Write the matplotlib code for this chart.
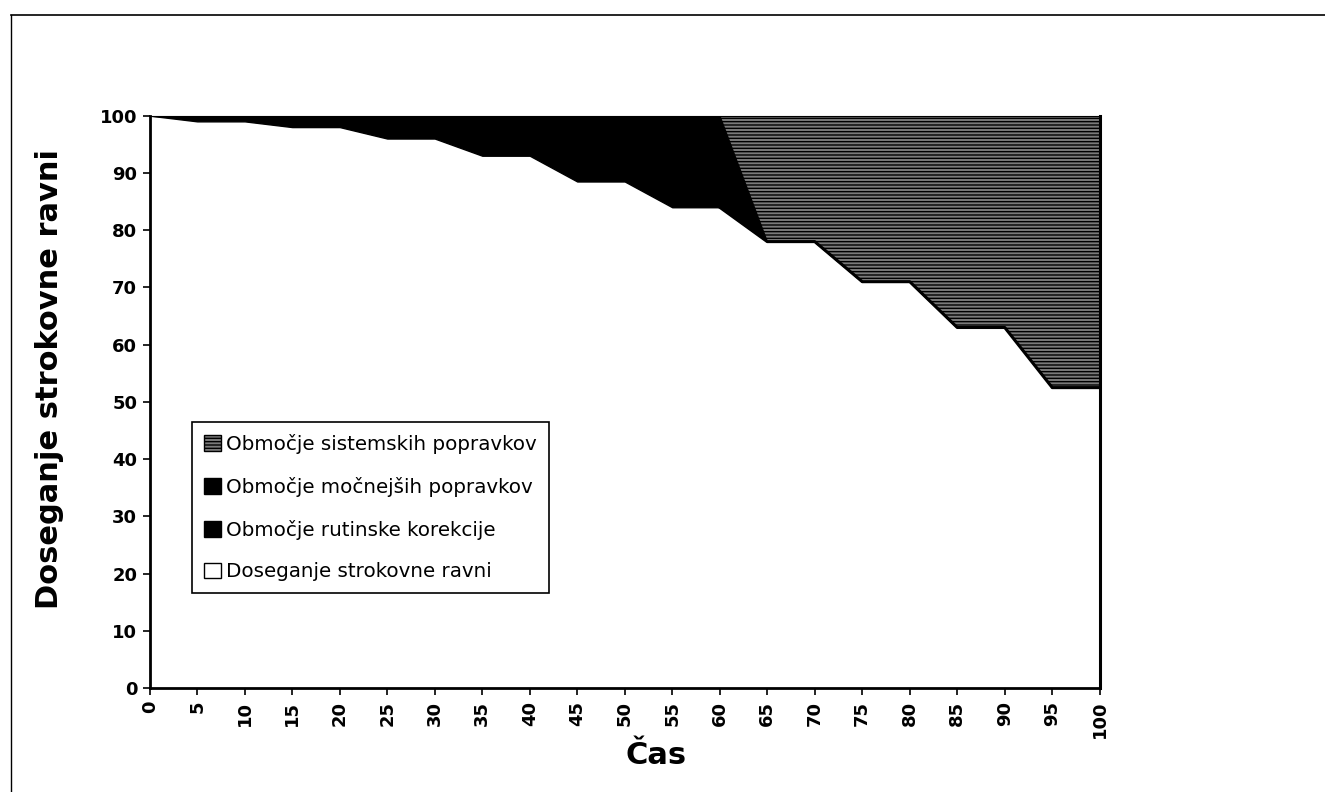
import numpy as np
import matplotlib.pyplot as plt
from matplotlib.lines import Line2D

plt.rcParams['font.family'] = ['DejaVu Sans']
plt.rcParams['hatch.linewidth'] = 1.0

# time axis
cas = [0, 5, 10, 15, 20, 25, 30, 35, 40, 45, 50,
       55, 60, 65, 70, 75, 80, 85, 90, 95, 100]

# series (stacked, bottom to top)
doseganje = [100, 99, 99, 98, 98, 96, 96, 93, 93, 88.5, 88.5,
             84, 84, 78, 78, 71, 71, 63, 63, 52.5, 52.5]
rutinske = [0, 0.5, 0.5, 1, 1, 2, 2, 3, 3, 5, 5,
            7, 7, 0, 0, 0, 0, 0, 0, 0, 0]
mocnejsi = [0, 0.5, 0.5, 1, 1, 2, 2, 4, 4, 6.5, 6.5,
            9, 9, 0, 0, 0, 0, 0, 0, 0, 0]
sistemski = [0, 0, 0, 0, 0, 0, 0, 0, 0, 0, 0,
             0, 0, 22, 22, 29, 29, 37, 37, 47.5, 47.5]

labels = ["Doseganje strokovne ravni", "Območje rutinske korekcije",
          "Območje močnejših popravkov", "Območje sistemskih popravkov"]

fig = plt.figure(figsize=(13.25, 7.92), dpi=100)
ax = fig.add_axes([0.113, 0.131, 0.717, 0.723])

polys = ax.stackplot(cas, doseganje, rutinske, mocnejsi, sistemski,
                     colors=['white', 'black', 'black', '#7a7a7a'],
                     labels=labels)
polys[0].set_edgecolor('none')
polys[1].set_edgecolor('black')
polys[2].set_edgecolor('black')
polys[3].set_edgecolor('black')
polys[3].set_hatch('-----')
polys[3].set_linewidth(1.0)

# thick edge along the lower side of the system-correction area
ax.plot(cas[12:], doseganje[12:], color='black', lw=2.2)

ax.set_xlim(0, 100)
ax.set_ylim(0, 100)
ax.set_xticks(cas)
ax.set_xticklabels([str(c) for c in cas], rotation=90, fontsize=13,
                   fontweight='bold')
ax.set_yticks(range(0, 101, 10))
ax.set_yticklabels([str(v) for v in range(0, 101, 10)], fontsize=13,
                   fontweight='bold')
ax.tick_params(direction='out', length=5, width=1.2, pad=4)

for side in ['left', 'bottom']:
    ax.spines[side].set_linewidth(2)
ax.spines['right'].set_linewidth(2.2)
ax.spines['top'].set_linewidth(0.8)

ax.set_xlabel("Čas", fontsize=22, fontweight='bold')
ax.set_ylabel("Doseganje strokovne ravni", fontsize=22, fontweight='bold')
ax.xaxis.set_label_coords(0.533, -0.092)
ax.yaxis.set_label_coords(-0.09, 0.54)

handles, labs = ax.get_legend_handles_labels()
leg = ax.legend(handles[::-1], labs[::-1], loc='upper left',
                bbox_to_anchor=(0.045, 0.465), fontsize=14.3, frameon=True,
                fancybox=False, edgecolor='black', framealpha=1,
                handlelength=0.85, handleheight=0.85, handletextpad=0.25,
                labelspacing=1.15, borderpad=0.6, borderaxespad=0)
leg.get_frame().set_linewidth(1.2)
for h in leg.legend_handles:
    h.set_edgecolor('black')
    h.set_linewidth(1.0)

# outer chart border (left and top)
fig.add_artist(Line2D([0.008, 0.008], [0.0, 0.981], color='black', lw=1,
                      transform=fig.transFigure))
fig.add_artist(Line2D([0.008, 1.0], [0.981, 0.981], color='black', lw=1.2,
                      transform=fig.transFigure))

fig.savefig('out.png', dpi=100)
